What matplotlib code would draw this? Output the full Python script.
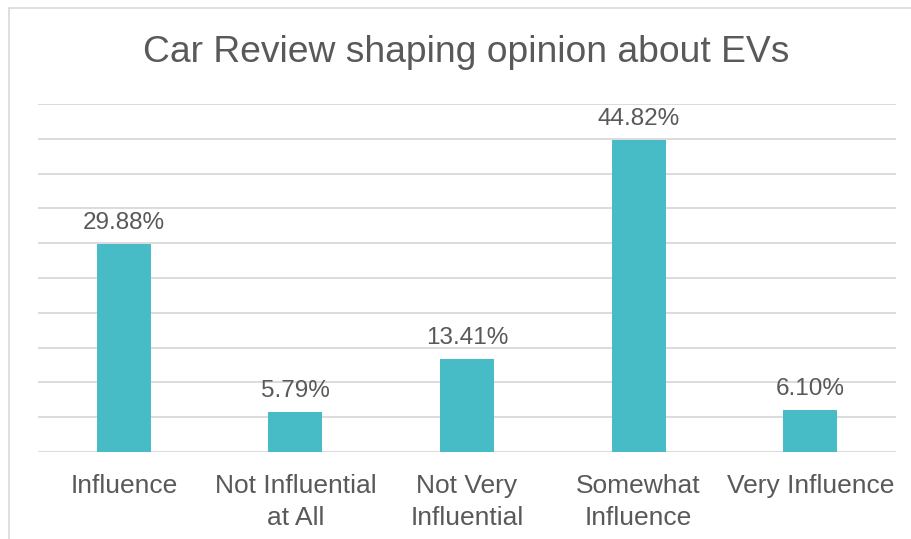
import matplotlib.pyplot as plt
from matplotlib.patches import Rectangle

plt.rcParams['font.family'] = ['Liberation Sans', 'DejaVu Sans']

categories = ['Influence', 'Not Influential\nat All', 'Not Very\nInfluential',
              'Somewhat\nInfluence', 'Very Influence']
percent = [29.88, 5.79, 13.41, 44.82, 6.10]
grid_ticks = [0, 5, 10, 15, 20, 25, 30, 35, 40, 45, 50]

bar_color = '#47BCC6'
text_color = '#595959'
grid_color = '#D9D9D9'

fig = plt.figure(figsize=(9.12, 5.39), dpi=100)
fig.patches.append(Rectangle((9 / 912, -0.05), 1.2, 1 - 8 / 539 + 0.05,
                             transform=fig.transFigure, fill=False,
                             edgecolor='#D9D9D9', linewidth=1.2))

ax = fig.add_axes([38 / 912, 1 - 452 / 539, (896 - 38) / 912, (452 - 104) / 539])
x = range(len(categories))
bars = ax.bar(x, percent, width=0.315, color=bar_color, zorder=2)

ax.set_xlim(-0.5, len(categories) - 0.5)
ax.set_ylim(0, 50)
ax.set_yticks(grid_ticks)
ax.yaxis.grid(True, color=grid_color, linewidth=1.3, zorder=0)
ax.tick_params(axis='y', left=False, labelleft=False)
ax.tick_params(axis='x', length=0, pad=16, labelsize=19, labelcolor=text_color)
ax.set_xticks(list(x))
ax.set_xticklabels(categories, linespacing=1.4)
for s in ax.spines.values():
    s.set_visible(False)

for b, v in zip(bars, percent):
    ax.annotate(f'{v:.2f}%', (b.get_x() + b.get_width() / 2, v),
                xytext=(0, 7), textcoords='offset points',
                ha='center', va='bottom', fontsize=17.5, color=text_color)

fig.text(466 / 912, 1 - 52 / 539, 'Car Review shaping opinion about EVs',
         ha='center', va='center', fontsize=26.8, color=text_color)

fig.savefig('out.png', dpi=100)
